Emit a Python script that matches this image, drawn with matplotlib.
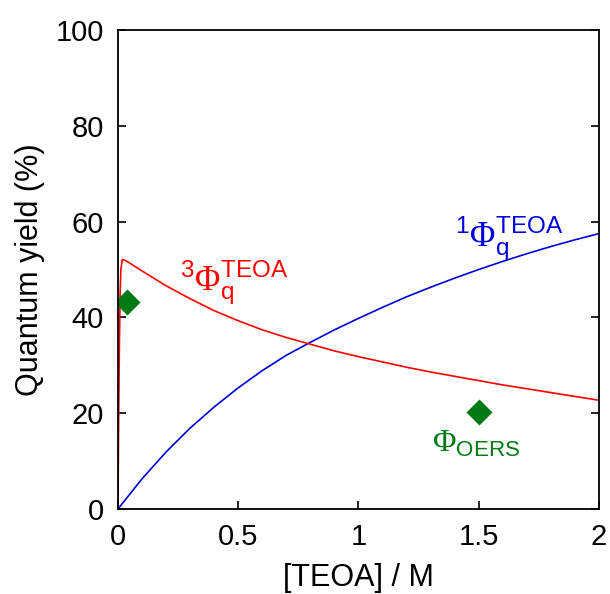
import numpy as np
import matplotlib
matplotlib.use("Agg")
import matplotlib.pyplot as plt

plt.rcParams['font.family'] = ['Liberation Sans', 'DejaVu Sans']
plt.rcParams['mathtext.fontset'] = 'custom'
plt.rcParams['mathtext.rm'] = 'Liberation Serif'
plt.rcParams['mathtext.sf'] = 'Liberation Sans'
plt.rcParams['mathtext.it'] = 'Liberation Sans:italic'

# singlet quenching yield (blue)
teoa_s = [0.0, 0.1, 0.2, 0.3, 0.4, 0.5, 0.6, 0.7, 0.8, 0.9, 1.0,
          1.1, 1.2, 1.3, 1.4, 1.5, 1.6, 1.7, 1.8, 1.9, 2.0]
phi_s = [0.0, 6.3, 11.9, 16.9, 21.3, 25.3, 28.9, 32.1, 34.8, 37.4, 39.8,
         42.1, 44.3, 46.3, 48.2, 50.0, 51.7, 53.3, 54.8, 56.2, 57.5]

# triplet quenching yield (red)
teoa_t = [0.0, 0.003, 0.006, 0.009, 0.012, 0.018, 0.03, 0.05, 0.1, 0.2,
          0.3, 0.4, 0.5, 0.6, 0.7, 0.8, 0.9, 1.0, 1.1, 1.2, 1.3, 1.4,
          1.5, 1.6, 1.7, 1.8, 1.9, 2.0]
phi_t = [0.0, 20.0, 35.0, 45.0, 50.0, 52.1, 51.9, 51.3, 49.7, 46.6,
         43.9, 41.4, 39.3, 37.4, 35.8, 34.4, 33.0, 31.8, 30.7, 29.6, 28.6, 27.7,
         26.8, 25.9, 25.1, 24.3, 23.5, 22.7]

# measured OERS yields
teoa_oers = [0.037, 1.5]
phi_oers = [43.3, 20.2]

fig = plt.figure(figsize=(6.1, 5.94), dpi=100)
ax = fig.add_axes([0.1934, 0.1431, 0.7886, 0.8064])

ax.plot(teoa_s, phi_s, color='#0000dd', lw=1.2)
ax.plot(teoa_t, phi_t, color='#ff0000', lw=1.2)
ax.plot(teoa_oers, phi_oers, 'D', color='#007a14', ms=13, mec='none')

ax.text(0.258, 45.5, r'$^{\mathsf{3}}\Phi_{\mathsf{q}}^{\mathsf{TEOA}}$',
        color='#ff0000', fontsize=25, ha='left', va='baseline')
ax.text(1.40, 54.6, r'$^{\mathsf{1}}\Phi_{\mathsf{q}}^{\mathsf{TEOA}}$',
        color='#0000dd', fontsize=25, ha='left', va='baseline')
ax.text(1.306, 12.0, r'$\Phi_{\mathsf{OERS}}$',
        color='#007a14', fontsize=23, ha='left', va='baseline')

ax.set_xlim(0, 2)
ax.set_ylim(0, 100)
ax.set_xticks([0, 0.5, 1, 1.5, 2])
ax.set_xticklabels(['0', '0.5', '1', '1.5', '2'])
ax.set_yticks([0, 20, 40, 60, 80, 100])
ax.tick_params(direction='in', length=6, width=1.2, labelsize=21,
               right=True, top=False)
ax.tick_params(axis='x', pad=10)
ax.tick_params(axis='y', pad=10)
for s in ax.spines.values():
    s.set_linewidth(1.3)

ax.set_xlabel('[TEOA] / M', fontsize=22, labelpad=9)
ax.set_ylabel('Quantum yield (%)', fontsize=22, labelpad=8)

fig.savefig('out.png', dpi=100)
